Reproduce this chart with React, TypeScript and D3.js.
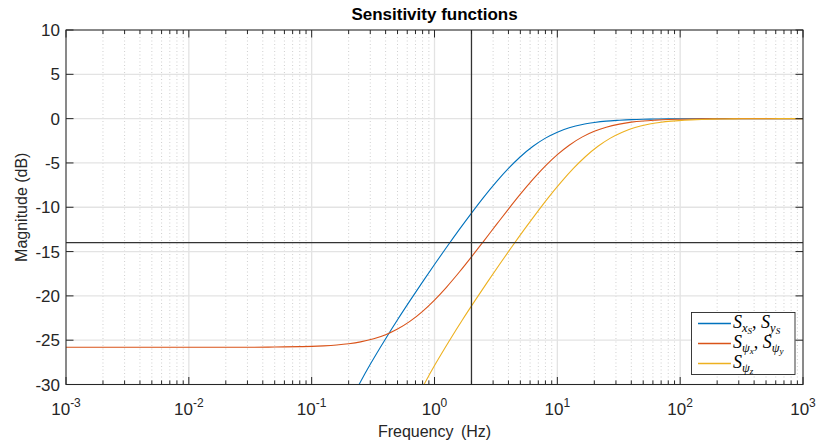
import React from "react";
import * as d3 from "d3";

// ---- data ----
const blueFreq = [0.2, 0.25, 0.3, 0.4, 0.5, 0.63, 0.8, 1, 1.25, 1.6, 2, 2.5, 3.2, 4, 5, 6.3, 8, 10, 12.5, 16, 20, 25, 32, 40, 50, 63, 80, 100, 160, 250, 1000];
const blueDb = [-32.24, -29.68, -27.72, -24.83, -22.69, -20.56, -18.42, -16.46, -14.54, -12.47, -10.66, -8.91, -7.11, -5.62, -4.3, -3.15, -2.2, -1.53, -1.04, -0.66, -0.44, -0.28, -0.18, -0.11, -0.07, -0.05, -0.03, -0.02, -0.01, 0, 0];

const orangeFreq = [0.001, 0.01, 0.03, 0.05, 0.08, 0.1, 0.125, 0.16, 0.2, 0.25, 0.32, 0.4, 0.5, 0.63, 0.8, 1, 1.25, 1.6, 2, 2.5, 3.2, 4, 5, 6.3, 8, 10, 12.5, 16, 20, 25, 32, 40, 50, 63, 80, 100, 160, 250, 400, 1000];
const orangeDb = [-25.8, -25.8, -25.8, -25.77, -25.73, -25.7, -25.64, -25.54, -25.4, -25.19, -24.84, -24.38, -23.74, -22.88, -21.74, -20.47, -19.03, -17.28, -15.6, -13.87, -11.94, -10.21, -8.53, -6.89, -5.34, -4.07, -3.0, -2.06, -1.43, -0.97, -0.62, -0.4, -0.26, -0.17, -0.1, -0.07, -0.03, -0.01, 0, 0];

const yellowFreq = [0.676, 0.845, 1.014, 1.352, 1.69, 2.129, 2.704, 3.38, 4.225, 5.408, 6.76, 8.45, 10.82, 13.52, 16.9, 21.29, 27.04, 33.8, 42.25, 54.08, 67.6, 84.5, 108.2, 135.2, 169, 212.9, 270.4, 338, 540.8, 845, 1000];
const yellowDb = [-32.24, -29.68, -27.72, -24.83, -22.69, -20.56, -18.42, -16.46, -14.54, -12.47, -10.66, -8.91, -7.11, -5.62, -4.3, -3.15, -2.2, -1.53, -1.04, -0.66, -0.44, -0.28, -0.18, -0.11, -0.07, -0.05, -0.03, -0.02, -0.01, 0, 0];

const seriesNames = ["blue", "orange", "yellow"];
const seriesColors = ["#0072BD", "#D95319", "#EDB120"];

const xDomain = [1e-3, 1e3];
const yDomain = [-30, 10];
const xMajorExponents = [-3, -2, -1, 0, 1, 2, 3];
const yTickValues = [10, 5, 0, -5, -10, -15, -20, -25, -30];
const refFreq = 2;
const refDb = -14;

const titleText = "Sensitivity functions";
const xLabel = "Frequency (Hz)";
const yLabel = "Magnitude (dB)";

export default function App() {
  const W = 818, H = 441;
  const L = 66, R = 803, T = 30, B = 384.5;
  const x = d3.scaleLog().domain(xDomain).range([L, R]);
  const y = d3.scaleLinear().domain(yDomain).range([B, T]);

  const allTicks = x.ticks();
  const isMajor = (v: number) => Math.abs(Math.log10(v) - Math.round(Math.log10(v))) < 1e-9;
  const minorTicks = allTicks.filter((v) => !isMajor(v));
  const majorTicks = xMajorExponents.map((e) => Math.pow(10, e));

  const line = d3
    .line<[number, number]>()
    .x((d) => x(d[0]))
    .y((d) => y(d[1]))
    .curve(d3.curveMonotoneX);

  const series = [
    { f: blueFreq, v: blueDb },
    { f: orangeFreq, v: orangeDb },
    { f: yellowFreq, v: yellowDb },
  ];

  const font = "'Liberation Sans', Arial, Helvetica, sans-serif";
  const axisColor = "#262626";
  const gridColor = "#e3e3e3";
  const minorGridColor = "#cfcfcf";

  const legendX = 691.5, legendY = 312.5, legendW = 103.5, legendH = 62;
  const legendRows = [323.5, 343.5, 363.5];
  const mathFont = "'Liberation Serif', 'DejaVu Serif', serif";
  const fs = 18, fsSub = 12.5, fsSub2 = 9;

  const sub = (main: string, s1: string, s2: string, k: string) => [
    <tspan key={k + "m"} fontSize={fs}>{main}</tspan>,
    <tspan key={k + "a"} dy={4} fontSize={fsSub}>{s1}</tspan>,
    <tspan key={k + "b"} dy={2.5} fontSize={fsSub2}>{s2}</tspan>,
  ];

  return (
    <svg width={W} height={H} style={{ position: "absolute", left: 0, top: 0, display: "block", background: "#fff" }}>
      <defs>
        <clipPath id="plotClip">
          <rect x={L} y={T} width={R - L} height={B - T} />
        </clipPath>
      </defs>
      <rect x={0} y={0} width={W} height={H} fill="#fff" />

      {/* grid */}
      {minorTicks.map((v, i) => (
        <line key={"mg" + i} x1={x(v)} x2={x(v)} y1={T} y2={B} stroke={minorGridColor} strokeWidth={1} strokeDasharray="1,2.5" />
      ))}
      {majorTicks.map((v, i) => (
        <line key={"Mg" + i} x1={x(v)} x2={x(v)} y1={T} y2={B} stroke={gridColor} strokeWidth={1.3} />
      ))}
      {yTickValues.map((v, i) => (
        <line key={"yg" + i} x1={L} x2={R} y1={y(v)} y2={y(v)} stroke={gridColor} strokeWidth={1.3} />
      ))}

      {/* curves */}
      <g clipPath="url(#plotClip)">
        {series.map((s, i) => (
          <path
            key={seriesNames[i]}
            d={line(s.f.map((f, j) => [f, s.v[j]] as [number, number])) || ""}
            fill="none"
            stroke={seriesColors[i]}
            strokeWidth={1.1}
          />
        ))}
        <line x1={x(refFreq)} x2={x(refFreq)} y1={T} y2={B} stroke="#333" strokeWidth={1.3} />
        <line x1={L} x2={R} y1={y(refDb)} y2={y(refDb)} stroke="#333" strokeWidth={1.3} />
      </g>

      {/* ticks */}
      {minorTicks.map((v, i) => (
        <g key={"mt" + i}>
          <line x1={x(v)} x2={x(v)} y1={B} y2={B - 4} stroke={axisColor} strokeWidth={1} />
          <line x1={x(v)} x2={x(v)} y1={T} y2={T + 4} stroke={axisColor} strokeWidth={1} />
        </g>
      ))}
      {majorTicks.map((v, i) => (
        <g key={"Mt" + i}>
          <line x1={x(v)} x2={x(v)} y1={B} y2={B - 7.5} stroke={axisColor} strokeWidth={1} />
          <line x1={x(v)} x2={x(v)} y1={T} y2={T + 7.5} stroke={axisColor} strokeWidth={1} />
        </g>
      ))}
      {yTickValues.map((v, i) => (
        <g key={"yt" + i}>
          <line x1={L} x2={L + 7.5} y1={y(v)} y2={y(v)} stroke={axisColor} strokeWidth={1} />
          <line x1={R} x2={R - 7.5} y1={y(v)} y2={y(v)} stroke={axisColor} strokeWidth={1} />
        </g>
      ))}

      <rect x={L} y={T} width={R - L} height={B - T} fill="none" stroke={axisColor} strokeWidth={1} />

      {/* tick labels */}
      {yTickValues.map((v, i) => (
        <text key={"yl" + i} x={L - 6} y={y(v)} dy="0.36em" textAnchor="end" fontFamily={font} fontSize={17} fill={axisColor}>
          {String(v)}
        </text>
      ))}
      {xMajorExponents.map((e, i) => (
        <text key={"xl" + i} x={x(Math.pow(10, e))} y={415} textAnchor="middle" fontFamily={font} fontSize={17} fill={axisColor}>
          <tspan>10</tspan>
          <tspan dy={-8} fontSize={12}>{String(e)}</tspan>
        </text>
      ))}

      {/* labels */}
      <text x={(L + R) / 2} y={20} textAnchor="middle" fontFamily={font} fontSize={17} fontWeight="bold" fill="#000">
        {titleText}
      </text>
      <text x={(L + R) / 2} y={436.5} textAnchor="middle" fontFamily={font} fontSize={16} fill={axisColor} style={{ wordSpacing: "3px" }}>
        {xLabel}
      </text>
      <text transform={`translate(27,${(T + B) / 2}) rotate(-90)`} textAnchor="middle" fontFamily={font} fontSize={16} fill={axisColor}>
        {yLabel}
      </text>

      {/* legend */}
      <rect x={legendX} y={legendY} width={legendW} height={legendH} fill="#fff" stroke={axisColor} strokeWidth={0.9} />
      {legendRows.map((ly, i) => (
        <line key={"ll" + i} x1={698} x2={731} y1={ly} y2={ly} stroke={seriesColors[i]} strokeWidth={1.3} />
      ))}
      <text x={733} y={legendRows[0] + 4} fontFamily={mathFont} fontStyle="italic" fill="#000">
        {sub("S", "x", "S", "r1a")}
        <tspan dy={-6.5} fontSize={fs} fontStyle="normal">, </tspan>
        {sub("S", "y", "S", "r1b")}
      </text>
      <text x={733} y={legendRows[1] + 4} fontFamily={mathFont} fontStyle="italic" fill="#000">
        {sub("S", "ψ", "x", "r2a")}
        <tspan dy={-6.5} fontSize={fs} fontStyle="normal">, </tspan>
        {sub("S", "ψ", "y", "r2b")}
      </text>
      <text x={733} y={legendRows[2] + 4} fontFamily={mathFont} fontStyle="italic" fill="#000">
        {sub("S", "ψ", "z", "r3a")}
      </text>
    </svg>
  );
}
